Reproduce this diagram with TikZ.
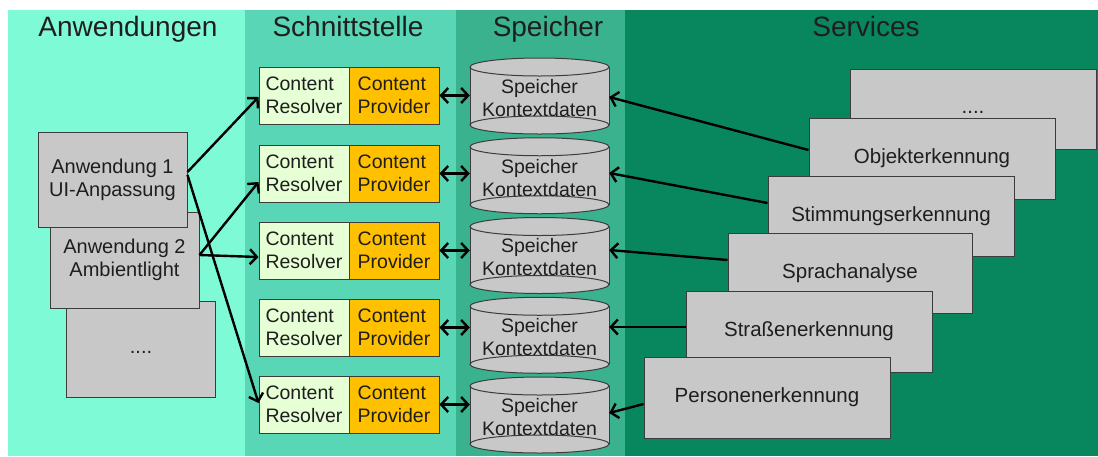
\documentclass[tikz,border=0pt]{standalone}
\usepackage{fontspec}
\setmainfont{Liberation Sans}
\usetikzlibrary{arrows.meta,calc}
\definecolor{colA}{RGB}{127,250,214}
\definecolor{colB}{RGB}{88,214,182}
\definecolor{colC}{RGB}{58,178,142}
\definecolor{colD}{RGB}{8,135,95}
\definecolor{boxgray}{RGB}{200,200,200}
\definecolor{resfill}{RGB}{230,255,212}
\definecolor{provfill}{RGB}{255,192,0}
\definecolor{edgec}{RGB}{60,60,60}
\definecolor{txt}{RGB}{30,30,30}
\begin{document}
\begin{tikzpicture}[x=1pt,y=-1pt,
  hdr/.style={font=\fontsize{28}{32}\selectfont, text=txt, anchor=base, inner sep=0pt},
  appbox/.style={draw=edgec, line width=1pt, fill=boxgray, minimum width=149pt, minimum height=96pt, inner sep=0pt, align=center, font=\fontsize{20}{23}\selectfont, text=txt},
  svcbox/.style={draw=edgec, line width=1pt, fill=boxgray, minimum width=246pt, minimum height=81pt, inner sep=0pt, align=center, font=\fontsize{20.5}{23}\selectfont, text=txt},
  resbox/.style={draw=edgec, line width=1pt, fill=resfill, minimum width=90pt, minimum height=57pt, inner sep=0pt, align=left, font=\fontsize{19.5}{23}\selectfont, text=txt},
  provbox/.style={resbox, fill=provfill},
  cyltext/.style={minimum width=139pt, minimum height=76pt, inner sep=0pt, align=center, font=\fontsize{19.5}{23}\selectfont, text=txt},
  cylline/.style={draw=edgec, line width=1pt},
  conn/.style={draw=black, line width=2.4pt, -{Straight Barb[length=7pt,width=15pt]}},
  biconn/.style={draw=black, line width=2.4pt, {Straight Barb[length=7pt,width=15pt]}-{Straight Barb[length=7pt,width=15pt]}}
]
\useasboundingbox (0,0) rectangle (1098,456);
% columns
\fill[colA] (8,10) rectangle (245,456);
\fill[colB] (245,10) rectangle (456,456);
\fill[colC] (456,10) rectangle (625,456);
\fill[colD] (625,10) rectangle (1098,456);
% headers
\node[hdr] (h1) at (128,36) {Anwendungen};
\node[hdr] (h2) at (348,36) {Schnittstelle};
\node[hdr] (h3) at (548,36) {Speicher};
\node[hdr] (h4) at (866,36) {Services};
% applications
\node[appbox] (a3) at (141,349) {\vphantom{Ag}....};
\node[appbox] (a2) at (124.5,260) {Anwendung 2\\Ambientlight};
\node[appbox, minimum height=95pt] (a1) at (112.5,179.5) {Anwendung 1\\UI-Anpassung};
% content resolver / provider
\foreach \i/\y in {1/95.5,2/173.5,3/250.5,4/327.5,5/404.5}{
  \node[resbox] (r\i) at (304,\y) {Content\\Resolver};
  \node[provbox] (p\i) at (394,\y) {Content\\Provider};
}
% cylinders
\foreach \i/\cy in {1/96,2/175.75,3/255.5,4/335.25,5/415}{
  \fill[boxgray] (470,\cy-29) rectangle (609,\cy+29);
  \fill[boxgray] (539.5,\cy+29) ellipse [x radius=69.5pt, y radius=9pt];
  \draw[cylline] (539.5,\cy+29) ellipse [x radius=69.5pt, y radius=9pt];
  \draw[cylline] (470,\cy-29) -- (470,\cy+29);
  \draw[cylline] (609,\cy-29) -- (609,\cy+29);
  \draw[cylline, fill=boxgray] (539.5,\cy-29) ellipse [x radius=69.5pt, y radius=9pt];
  \node[cyltext] (c\i) at (539.5,\cy+2) {Speicher\\Kontextdaten};
}
% services
\node[svcbox, minimum height=80pt] (s0) at (973,109) {\vphantom{Ag}....};
\node[svcbox] (s1) at (932,158.5) {Objekterkennung};
\node[svcbox, minimum height=80pt] (s2) at (891,216) {Stimmungserkennung};
\node[svcbox, minimum height=80pt, minimum width=244pt] (s3) at (850,273) {Sprachanalyse};
\node[svcbox] (s4) at (809,331.5) {Stra\ss enerkennung};
\node[svcbox] (s5) at (767,397.5) {Personenerkennung};
% app connectors
\draw[conn] ([yshift=7.5pt]a1.east) -- ([yshift=-1.5pt]r1.west);
\draw[conn] ([yshift=4.5pt]a1.east) -- ([yshift=1.5pt]r5.west);
\draw[conn] ([yshift=5pt]a2.east) -- ([yshift=-8.5pt]r2.west);
\draw[conn] ([yshift=5pt]a2.east) -- ([yshift=-6.5pt]r3.west);
% provider <-> storage
\foreach \i in {1,...,5}{
  \draw[biconn] (p\i.east) -- (p\i.east -| c\i.west);
}
% services -> storage
\draw[conn] ([yshift=8.5pt]s1.west) -- ([yshift=1pt]c1.east);
\draw[conn] ([yshift=13pt]s2.west) -- ([yshift=4.75pt]c2.east);
\draw[conn] ([yshift=13pt]s3.west) -- ([yshift=7.5pt]c3.east);
\draw[conn] ([yshift=4.5pt]s4.west) -- ([yshift=10.25pt]c4.east);
\draw[conn] ([yshift=-6.5pt]s5.west) -- ([yshift=4pt]c5.east);
\end{tikzpicture}
\end{document}
